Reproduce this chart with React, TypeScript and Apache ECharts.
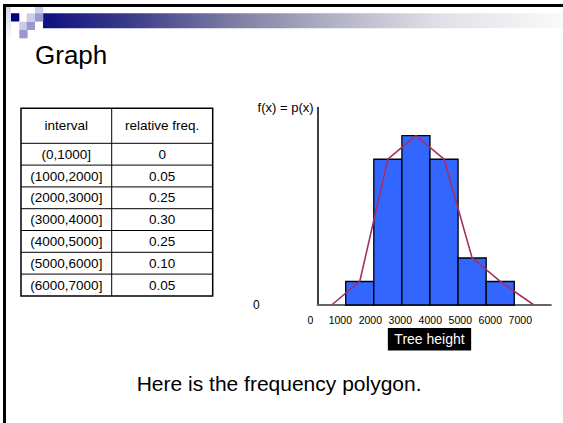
import React, { useEffect, useRef } from "react";
import * as echarts from "echarts";

// ---- data ----
const intervals = ["(0,1000]", "(1000,2000]", "(2000,3000]", "(3000,4000]", "(4000,5000]", "(5000,6000]", "(6000,7000]"];
const relFreq = [0, 0.05, 0.25, 0.3, 0.25, 0.1, 0.05];
const tableHeader = ["interval", "relative freq."];

// histogram as drawn in the picture (bin start, bin end, drawn height)
const binStarts = [1000, 2000, 3000, 4000, 5000, 6000];
const binEnds = [2000, 3000, 4000, 5000, 6000, 7000];
const binHeights = [0.05, 0.31, 0.36, 0.31, 0.1, 0.05];

// frequency polygon
const polyX = [500, 1500, 2500, 3500, 4500, 5500, 6500, 7700];
const polyY = [0, 0.05, 0.31, 0.36, 0.31, 0.1, 0.05, 0];

const xTickValues = [0, 1000, 2000, 3000, 4000, 5000, 6000, 7000];

const FONT = '"Liberation Sans", Arial, Helvetica, sans-serif';

function fmtFreq(v: number): string {
  return v === 0 ? "0" : v.toFixed(2);
}

function buildTable(): any[] {
  const left = 21;
  const right = 212.7;
  const mid = 111.7;
  const top = 108.3;
  const headH = 35;
  const rowH = 21.8;
  const bottom = top + headH + rowH * intervals.length;
  const els: any[] = [];
  const lineStyle = { stroke: "#000", lineWidth: 1 };
  // outer box
  els.push({ type: "rect", shape: { x: left, y: top, width: right - left, height: bottom - top }, style: { fill: "#fff", stroke: "#000", lineWidth: 1.5 } });
  els.push({ type: "line", shape: { x1: mid, y1: top, x2: mid, y2: bottom }, style: lineStyle });
  for (let i = 0; i < intervals.length; i++) {
    const y = top + headH + rowH * i;
    els.push({ type: "line", shape: { x1: left, y1: y, x2: right, y2: y }, style: lineStyle });
  }
  const cx1 = (left + mid) / 2;
  const cx2 = (mid + right) / 2;
  const txt = (x: number, y: number, s: string) => ({
    type: "text",
    x,
    y,
    style: { text: s, fill: "#000", font: `13.5px ${FONT}`, align: "center", verticalAlign: "middle" },
  });
  els.push(txt(cx1, top + headH / 2, tableHeader[0]));
  els.push(txt(cx2, top + headH / 2, tableHeader[1]));
  for (let i = 0; i < intervals.length; i++) {
    const cy = top + headH + rowH * i + rowH / 2;
    els.push(txt(cx1, cy, intervals[i]));
    els.push(txt(cx2, cy, fmtFreq(relFreq[i])));
  }
  return els;
}

function buildDecor(): any[] {
  const s = 8.3;
  const squares: [number, number, string][] = [
    [35, 5, "#ccccea"],
    [11, 13.3, "#000080"],
    [26.7, 13.3, "#ccccea"],
    [35, 13.3, "#9999cc"],
    [19.3, 21.7, "#ccccea"],
    [26.7, 21.7, "#9999cc"],
    [19.3, 30, "#9999cc"],
  ];
  const els: any[] = [];
  els.push({
    type: "rect",
    shape: { x: 43, y: 13.3, width: 520, height: 15 },
    style: {
      fill: new echarts.graphic.LinearGradient(0, 0, 1, 0, [
        { offset: 0, color: "#101080" },
        { offset: 0.17, color: "#3c3c8a" },
        { offset: 0.37, color: "#7e7ea4" },
        { offset: 0.56, color: "#b2b2c6" },
        { offset: 0.75, color: "#dedee6" },
        { offset: 1, color: "#fafafa" },
      ]),
    },
  });
  els.push({
    type: "rect",
    shape: { x: 6, y: 7, width: 5, height: 36 },
    style: {
      fill: new echarts.graphic.LinearGradient(0, 0, 0, 1, [
        { offset: 0, color: "#d4d4ea" },
        { offset: 1, color: "#ffffff" },
      ]),
    },
  });
  for (const [x, y, c] of squares) {
    els.push({ type: "rect", shape: { x, y, width: s, height: s }, style: { fill: c } });
  }
  // slide frame
  els.push({ type: "rect", shape: { x: 3, y: 4, width: 560, height: 3 }, style: { fill: "#000" } });
  els.push({ type: "rect", shape: { x: 3, y: 4, width: 3, height: 419 }, style: { fill: "#000" } });
  // title and caption
  els.push({ type: "text", x: 35, y: 55.3, style: { text: "Graph", fill: "#000", font: `26px ${FONT}`, align: "left", verticalAlign: "middle" } });
  els.push({ type: "text", x: 136.7, y: 383.5, style: { text: "Here is the frequency polygon.", fill: "#000", font: `21px ${FONT}`, align: "left", verticalAlign: "middle" } });
  return els;
}

export default function App() {
  const ref = useRef<HTMLDivElement>(null);
  useEffect(() => {
    if (!ref.current) return;
    const chart = echarts.init(ref.current, undefined, { renderer: "svg" });
    const bars = binStarts.map((s, i) => [s, binEnds[i], binHeights[i]]);
    const poly = polyX.map((x, i) => [x, polyY[i]]);
    chart.setOption({
      animation: false,
      backgroundColor: "#fff",
      textStyle: { fontFamily: FONT },
      grid: [
        { left: 317.6, top: 107.5, width: 233.2, height: 197.5 },
        { left: 310.3, top: 304, width: 238.4, height: 1 },
      ],
      xAxis: [
        {
          type: "value",
          gridIndex: 0,
          min: 0,
          max: 8300,
          axisLine: { show: true, onZero: false, lineStyle: { color: "#666", width: 2 } },
          axisTick: { show: false },
          axisLabel: { show: false },
          splitLine: { show: false },
        },
        {
          type: "value",
          gridIndex: 1,
          min: 0,
          max: 7947,
          interval: 1000,
          axisLine: { show: false },
          axisTick: { show: false },
          splitLine: { show: false },
          axisLabel: {
            margin: 9,
            fontSize: 10.5,
            color: "#000",
            fontFamily: FONT,
            showMaxLabel: false,
            formatter: (v: number) => (xTickValues.indexOf(v) >= 0 ? String(v) : ""),
          },
          name: "Tree height",
          nameLocation: "middle",
          nameGap: 23,
          nameTextStyle: {
            color: "#fff",
            backgroundColor: "#000",
            fontSize: 14,
            lineHeight: 14,
            fontFamily: FONT,
            padding: [4.2, 6.5, 4.2, 6.5],
            verticalAlign: "top",
          },
        },
      ],
      yAxis: [
        {
          type: "value",
          gridIndex: 0,
          min: 0,
          max: 0.42,
          axisLine: { show: true, lineStyle: { color: "#000", width: 1.5 } },
          axisTick: { show: false },
          splitLine: { show: false },
          axisLabel: {
            margin: 58,
            fontSize: 12,
            color: "#000",
            fontFamily: FONT,
            padding: [4, 0, 0, 0],
            formatter: (v: number) => (v === 0 ? "0" : ""),
          },
          name: "f(x) = p(x)",
          nameLocation: "end",
          nameGap: 0,
          nameTextStyle: {
            color: "#000",
            fontSize: 13,
            fontFamily: FONT,
            align: "right",
            verticalAlign: "middle",
            padding: [0, 4, 0, 0],
          },
        },
        { type: "value", gridIndex: 1, show: false, min: 0, max: 1 },
      ],
      series: [
        {
          type: "custom",
          xAxisIndex: 0,
          yAxisIndex: 0,
          data: bars,
          encode: { x: [0, 1], y: 2 },
          renderItem: (params: any, api: any) => {
            const p0 = api.coord([api.value(0), api.value(2)]);
            const p1 = api.coord([api.value(1), 0]);
            return {
              type: "rect",
              shape: { x: p0[0], y: p0[1], width: p1[0] - p0[0], height: p1[1] - p0[1] },
              style: { fill: "#3366ff", stroke: "#000", lineWidth: 1.3 },
            };
          },
          z: 2,
        },
        {
          type: "line",
          xAxisIndex: 0,
          yAxisIndex: 0,
          data: poly,
          symbol: "none",
          lineStyle: { color: "#a03264", width: 1.6 },
          z: 3,
        },
      ],
      graphic: [...buildDecor(), ...buildTable()],
    });
    return () => chart.dispose();
  }, []);
  return <div ref={ref} style={{ position: "absolute", left: 0, top: 0, width: 563, height: 423 }} />;
}
